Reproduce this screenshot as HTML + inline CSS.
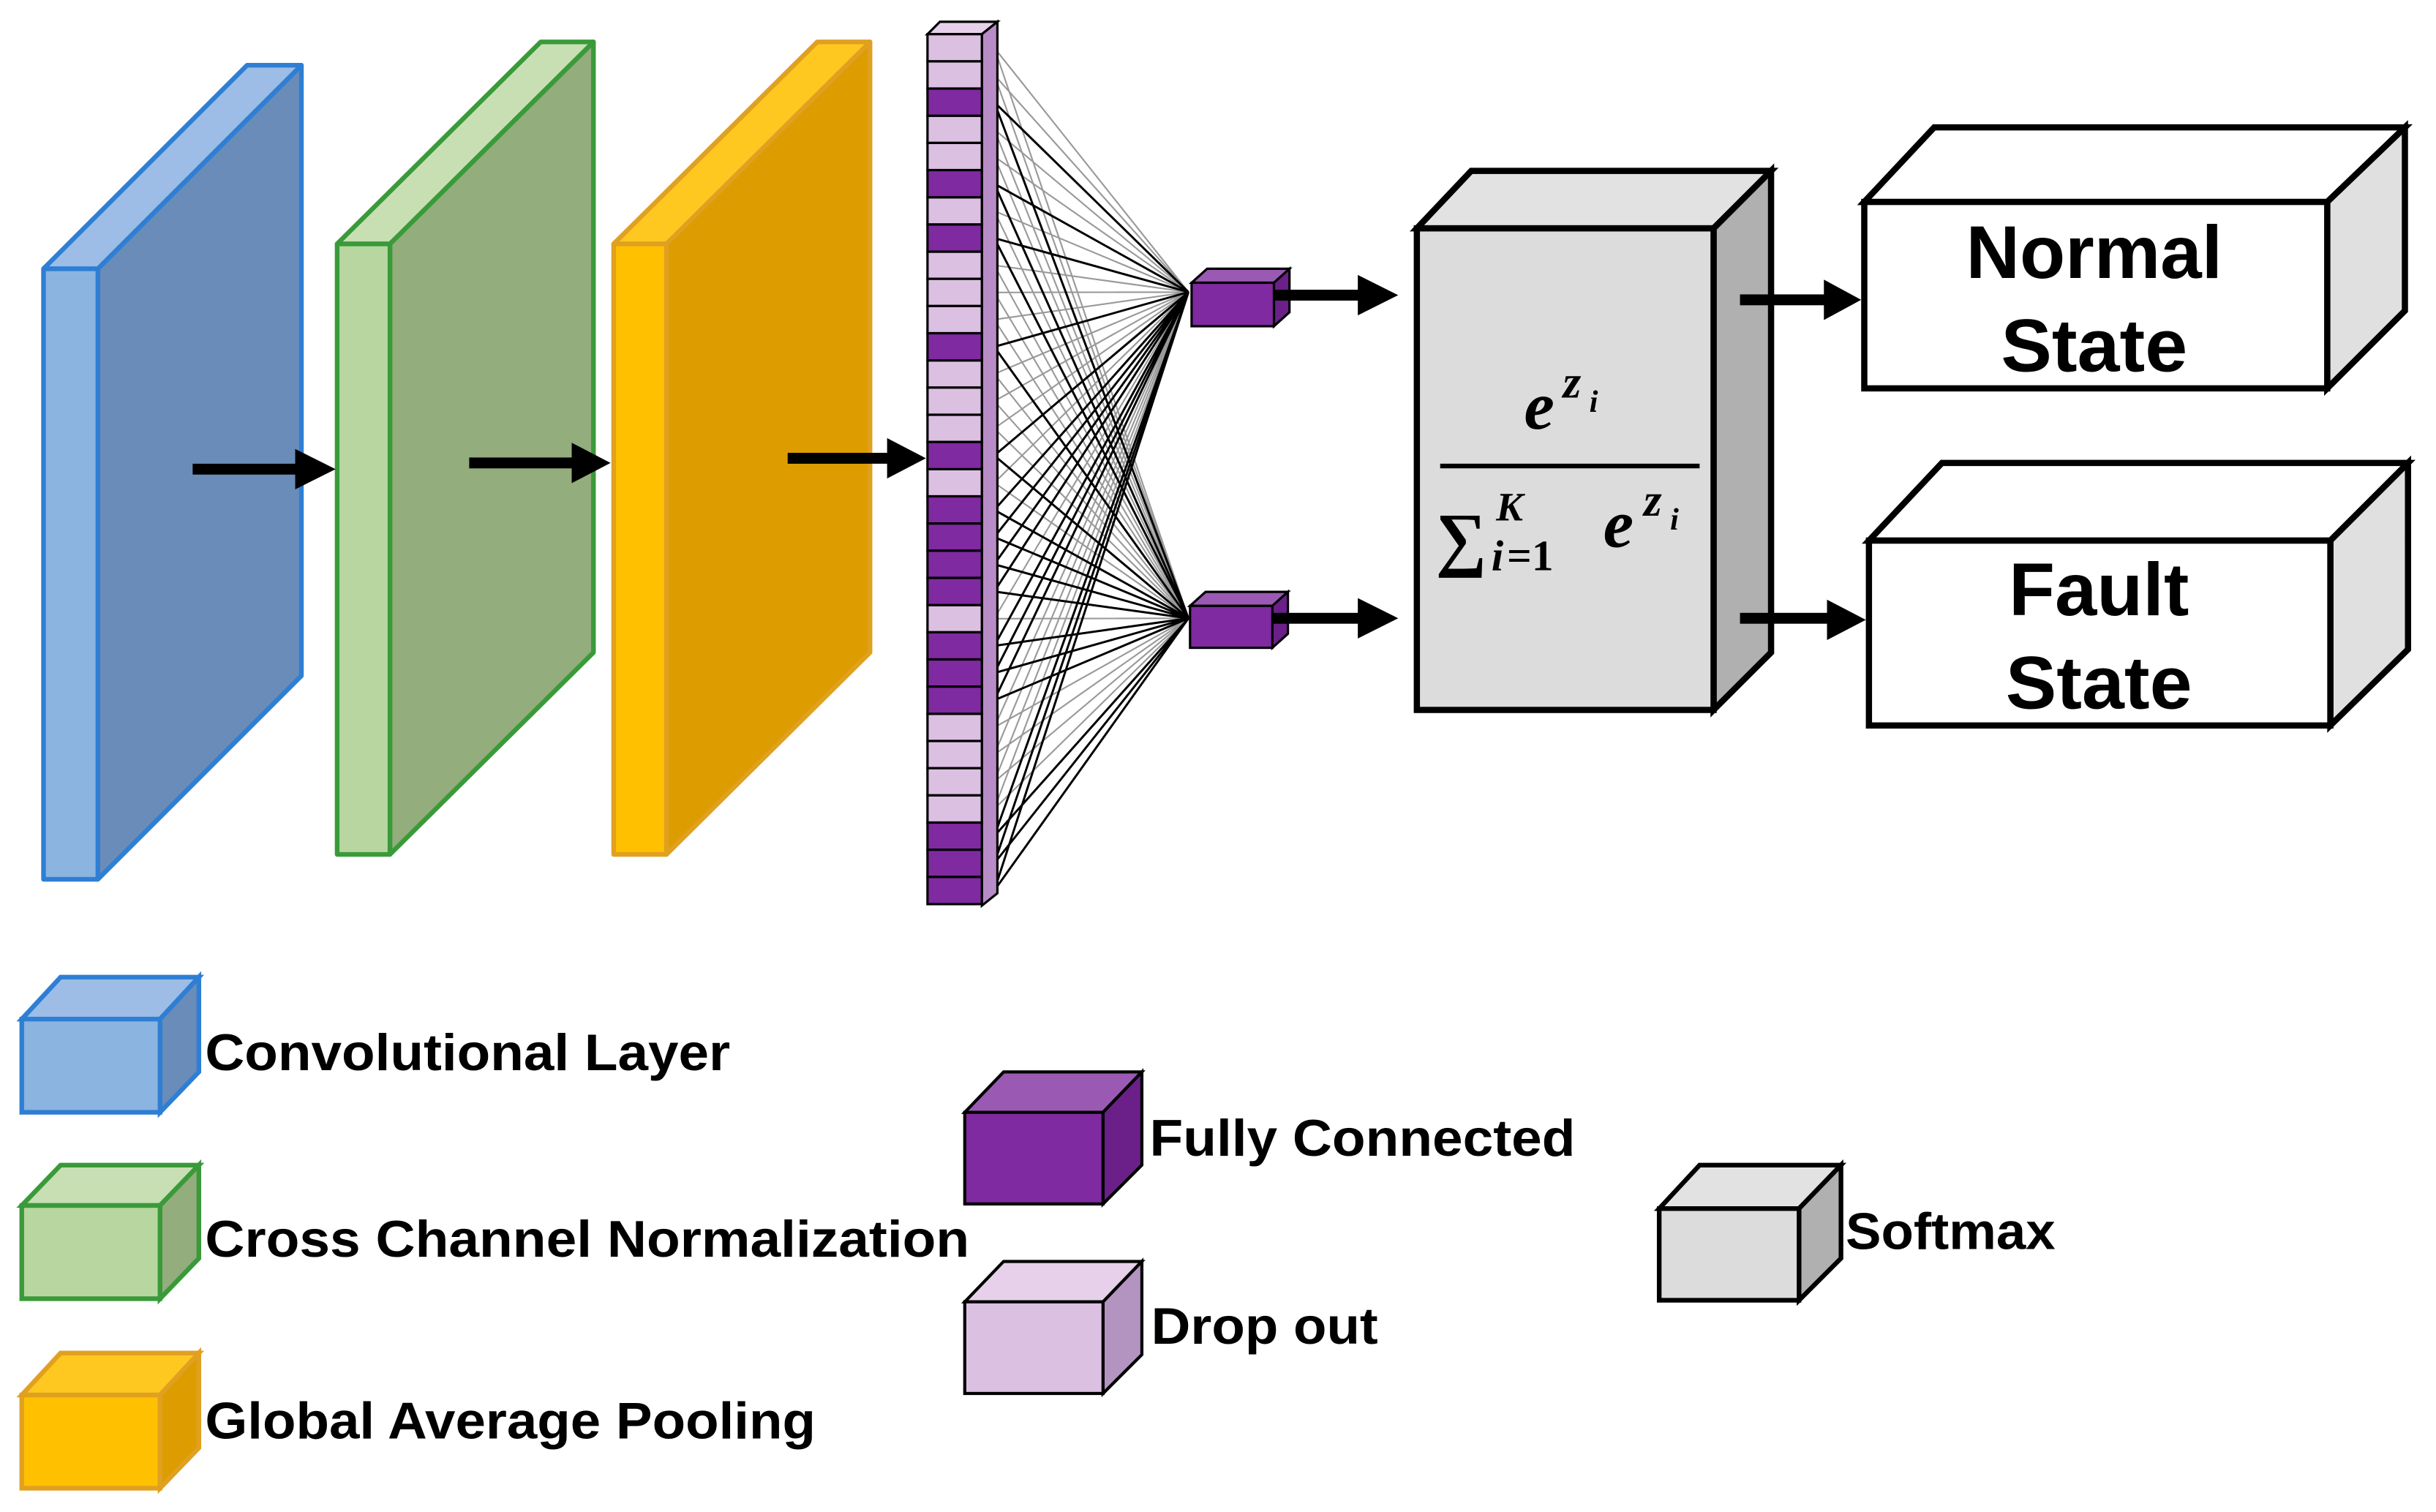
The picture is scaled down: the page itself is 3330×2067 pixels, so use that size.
<!DOCTYPE html>
<html><head><meta charset="utf-8"><style>html,body{margin:0;padding:0;background:#fff}svg{display:block}</style></head>
<body>
<svg xmlns="http://www.w3.org/2000/svg" width="3330" height="2067" viewBox="0 0 1568 973.3">
<rect x="0" y="0" width="1568" height="973.3" fill="#fff"/>
<g stroke="#2e7fd4" stroke-width="3" stroke-linejoin="round">
<polygon points="63,173 194,42 194,435 63,566" fill="#6a8cb8"/>
<polygon points="28,173 159,42 194,42 63,173" fill="#9dbde6"/>
<rect x="28" y="173" width="35" height="393" fill="#8cb4e0"/>
</g>
<g stroke="#3a9a3a" stroke-width="3" stroke-linejoin="round">
<polygon points="251,157 382,27 382,420 251,550" fill="#93ad7c"/>
<polygon points="217,157 348,27 382,27 251,157" fill="#c8dfb4"/>
<rect x="217" y="157" width="34" height="393" fill="#b8d6a0"/>
</g>
<g stroke="#e0a020" stroke-width="3" stroke-linejoin="round">
<polygon points="429,157 560,27 560,420 429,550" fill="#dd9c00"/>
<polygon points="395,157 526,27 560,27 429,157" fill="#ffc820"/>
<rect x="395" y="157" width="34" height="393" fill="#ffc000"/>
</g>
<g fill="#000" stroke="none">
<rect x="124" y="298.5" width="70" height="7"/><polygon points="190,289 216,302 190,315"/>
<rect x="302" y="294.5" width="70" height="7"/><polygon points="368,285 393,298 368,311"/>
<rect x="507" y="291.5" width="68" height="7"/><polygon points="571,282 596,295 571,308"/>
</g>
<path stroke="#999" stroke-width="1" fill="none" d="M640 30.75L765 188M640 30.75L765 398M640 48.25L765 188M640 48.25L765 398M640 83.25L765 188M640 83.25L765 398M640 100.75L765 188M640 100.75L765 398M640 135.75L765 188M640 135.75L765 398M640 170.75L765 188M640 170.75L765 398M640 188.25L765 188M640 188.25L765 398M640 205.75L765 188M640 205.75L765 398M640 240.75L765 188M640 240.75L765 398M640 258.25L765 188M640 258.25L765 398M640 275.75L765 188M640 275.75L765 398M640 310.75L765 188M640 310.75L765 398M640 398.25L765 188M640 398.25L765 398M640 468.25L765 188M640 468.25L765 398M640 485.75L765 188M640 485.75L765 398M640 503.25L765 188M640 503.25L765 398M640 520.75L765 188M640 520.75L765 398"/>
<path stroke="#000" stroke-width="1.4" fill="none" d="M640 65.75L765 188M640 65.75L765 398M640 118.25L765 188M640 118.25L765 398M640 153.25L765 188M640 153.25L765 398M640 223.25L765 188M640 223.25L765 398M640 293.25L765 188M640 293.25L765 398M640 328.25L765 188M640 328.25L765 398M640 345.75L765 188M640 345.75L765 398M640 363.25L765 188M640 363.25L765 398M640 380.75L765 188M640 380.75L765 398M640 415.75L765 188M640 415.75L765 398M640 433.25L765 188M640 433.25L765 398M640 450.75L765 188M640 450.75L765 398M640 538.25L765 188M640 538.25L765 398M640 555.75L765 188M640 555.75L765 398M640 573.25L765 188M640 573.25L765 398"/>
<g stroke="#000" stroke-width="1.5">
<polygon points="597,22 605,14 642,14 632,22" fill="#e6d0ea"/>
<polygon points="632,22 642,14 642,575 632,583" fill="#b88cc6"/>
<g fill="#dcc0e2">
<rect x="597" y="22" width="35" height="17.5"/><rect x="597" y="39.5" width="35" height="17.5"/><rect x="597" y="74.5" width="35" height="17.5"/><rect x="597" y="92" width="35" height="17.5"/><rect x="597" y="127" width="35" height="17.5"/><rect x="597" y="162" width="35" height="17.5"/><rect x="597" y="179.5" width="35" height="17.5"/><rect x="597" y="197" width="35" height="17.5"/><rect x="597" y="232" width="35" height="17.5"/><rect x="597" y="249.5" width="35" height="17.5"/><rect x="597" y="267" width="35" height="17.5"/><rect x="597" y="302" width="35" height="17.5"/><rect x="597" y="389.5" width="35" height="17.5"/><rect x="597" y="459.5" width="35" height="17.5"/><rect x="597" y="477" width="35" height="17.5"/><rect x="597" y="494.5" width="35" height="17.5"/><rect x="597" y="512" width="35" height="17.5"/>
</g>
<g fill="#7f2aa0">
<rect x="597" y="57" width="35" height="17.5"/><rect x="597" y="109.5" width="35" height="17.5"/><rect x="597" y="144.5" width="35" height="17.5"/><rect x="597" y="214.5" width="35" height="17.5"/><rect x="597" y="284.5" width="35" height="17.5"/><rect x="597" y="319.5" width="35" height="17.5"/><rect x="597" y="337" width="35" height="17.5"/><rect x="597" y="354.5" width="35" height="17.5"/><rect x="597" y="372" width="35" height="17.5"/><rect x="597" y="407" width="35" height="17.5"/><rect x="597" y="424.5" width="35" height="17.5"/><rect x="597" y="442" width="35" height="17.5"/><rect x="597" y="529.5" width="35" height="17.5"/><rect x="597" y="547" width="35" height="17.5"/><rect x="597" y="564.5" width="35" height="17.5"/>
</g>
</g>
<g stroke="#000" stroke-width="1.5">
<polygon points="767,182 777,173 830,173 820,182" fill="#9a5ab4"/>
<polygon points="820,182 830,173 830,201 820,210" fill="#6a2088"/>
<rect x="767" y="182" width="53" height="28" fill="#7f2aa0"/>
<polygon points="766,390 776,381 829,381 819,390" fill="#9a5ab4"/>
<polygon points="819,390 829,381 829,408 819,417" fill="#6a2088"/>
<rect x="766" y="390" width="53" height="27" fill="#7f2aa0"/>
</g>
<g stroke="#000" stroke-width="4" stroke-linejoin="miter">
<polygon points="912,147 947,110 1140,110 1103,147" fill="#e2e2e2"/>
<polygon points="1103,147 1140,110 1140,420 1103,457" fill="#b0b0b0"/>
<rect x="912" y="147" width="191" height="310" fill="#dcdcdc"/>
</g>
<g fill="#000" stroke="none">
<rect x="820" y="186.5" width="60" height="7"/><polygon points="874,177 900,190 874,203"/>
<rect x="819" y="394.5" width="61" height="7"/><polygon points="874,385 900,398 874,411"/>
<rect x="1120" y="189.5" width="60" height="7"/><polygon points="1174,180 1198,193 1174,206"/>
<rect x="1120" y="394.5" width="60" height="7"/><polygon points="1176,386 1201,399 1176,412"/>
</g>
<line x1="927" y1="300" x2="1094" y2="300" stroke="#000" stroke-width="3"/>
<g font-family="'Liberation Serif',serif" font-style="italic" font-weight="bold" fill="#000">
<text x="981" y="276" font-size="44">e</text>
<text x="1006" y="256" font-size="30">z</text>
<text x="1023" y="265" font-size="20">i</text>
<text x="924" y="362" font-size="46" font-style="normal">∑</text>
<text x="963" y="335" font-size="26">K</text>
<text x="960" y="367" font-size="28">i</text>
<text x="970" y="367" font-size="28" font-style="normal">=1</text>
<text x="1032" y="352" font-size="44">e</text>
<text x="1058" y="332" font-size="30">z</text>
<text x="1075" y="341" font-size="20">i</text>
</g>
<g stroke="#000" stroke-width="4">
<polygon points="1200,130 1245,82 1548,82 1498,130" fill="#fff"/>
<polygon points="1498,130 1548,82 1548,200 1498,250" fill="#e0e0e0"/>
<rect x="1200" y="130" width="298" height="120" fill="#fff"/>
<polygon points="1203,348 1250,298 1550,298 1500,348" fill="#fff"/>
<polygon points="1500,348 1550,298 1550,418 1500,467" fill="#e0e0e0"/>
<rect x="1203" y="348" width="297" height="119" fill="#fff"/>
</g>
<g font-family="'Liberation Sans',sans-serif" font-weight="bold" fill="#000" font-size="48" text-anchor="middle">
<text x="1348" y="179" textLength="165" lengthAdjust="spacingAndGlyphs">Normal</text>
<text x="1348" y="239" textLength="120" lengthAdjust="spacingAndGlyphs">State</text>
<text x="1351" y="396" textLength="116" lengthAdjust="spacingAndGlyphs">Fault</text>
<text x="1351" y="456" textLength="120" lengthAdjust="spacingAndGlyphs">State</text>
</g>
<g stroke-width="3">
<g stroke="#2e7fd4"><polygon points="14,656 39,629 128,629 103,656" fill="#9dbde6"/><polygon points="103,656 128,629 128,690 103,716" fill="#6a8cb8"/><rect x="14" y="656" width="89" height="60" fill="#8cb4e0"/></g>
<g stroke="#3a9a3a"><polygon points="14,776 39,750 128,750 103,776" fill="#c8dfb4"/><polygon points="103,776 128,750 128,810 103,836" fill="#93ad7c"/><rect x="14" y="776" width="89" height="60" fill="#b8d6a0"/></g>
<g stroke="#e0a020"><polygon points="14,898 39,871 128,871 103,898" fill="#ffc820"/><polygon points="103,898 128,871 128,932 103,958" fill="#dd9c00"/><rect x="14" y="898" width="89" height="60" fill="#ffc000"/></g>
</g>
<g stroke="#000" stroke-width="2">
<polygon points="621,716 646,690 735,690 710,716" fill="#9a5ab4"/><polygon points="710,716 735,690 735,750 710,775" fill="#6a2088"/><rect x="621" y="716" width="89" height="59" fill="#7f2aa0"/>
<polygon points="621,838 646,812 735,812 710,838" fill="#e6d0ea"/><polygon points="710,838 735,812 735,872 710,897" fill="#b394c0"/><rect x="621" y="838" width="89" height="59" fill="#dcc0e2"/>
<g stroke-width="3"><polygon points="1068,778 1094,750 1185,750 1158,778" fill="#e2e2e2"/><polygon points="1158,778 1185,750 1185,810 1158,837" fill="#b0b0b0"/><rect x="1068" y="778" width="90" height="59" fill="#dcdcdc"/></g>
</g>
<g font-family="'Liberation Sans',sans-serif" font-weight="bold" fill="#000" font-size="33">
<text x="132" y="689" textLength="338" lengthAdjust="spacingAndGlyphs">Convolutional Layer</text>
<text x="132" y="809" textLength="492" lengthAdjust="spacingAndGlyphs">Cross Channel Normalization</text>
<text x="132" y="926" textLength="393" lengthAdjust="spacingAndGlyphs">Global Average Pooling</text>
<text x="740" y="744" textLength="274" lengthAdjust="spacingAndGlyphs">Fully Connected</text>
<text x="741" y="865" textLength="146" lengthAdjust="spacingAndGlyphs">Drop out</text>
<text x="1188" y="804" textLength="135" lengthAdjust="spacingAndGlyphs">Softmax</text>
</g>
</svg>
</body></html>
